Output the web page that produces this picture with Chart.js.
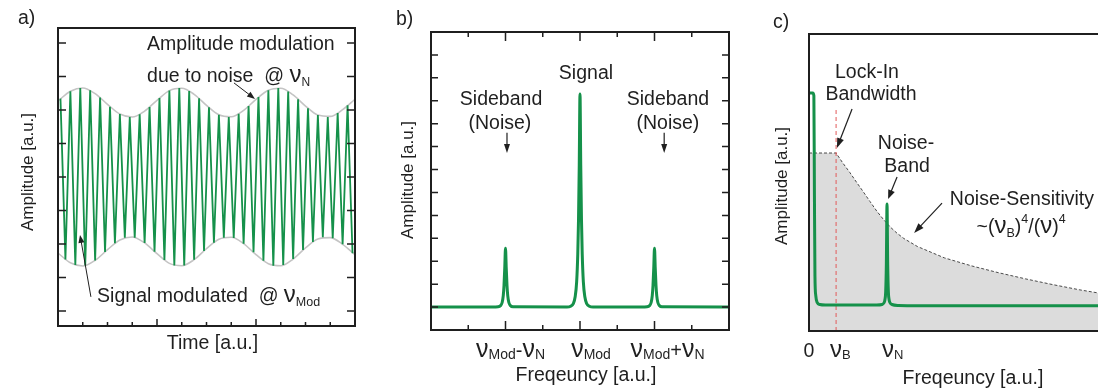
<!DOCTYPE html>
<html>
<head>
<meta charset="utf-8">
<title>Lock-in detection sketch</title>
<script src="https://cdn.jsdelivr.net/npm/chart.js@4.4.1/dist/chart.umd.min.js"></script>
<style>
    html, body { margin: 0; padding: 0; background: #fff; overflow: hidden; width: 1098px; height: 390px; }
    canvas { position: absolute; top: 0; }
    #panelA { left: 0; }
    #panelB { left: 370px; }
    #panelC { left: 740px; }
</style>
</head>
<body>
<canvas id="panelA" width="370" height="390"></canvas>
<canvas id="panelB" width="370" height="390"></canvas>
<canvas id="panelC" width="380" height="390"></canvas>
<script>
const FONT = '"Liberation Sans", Arial, Helvetica, sans-serif';
const GREEN = '#15914a';
const INK = '#1f1f1f';

// (a) modulated signal: carrier extrema and the slow noise envelope
const sampleTimes = [0.1, 0.3, 0.5, 0.7, 0.9, 1.1, 1.3, 1.5, 1.7, 1.9, 2.1, 2.3, 2.5, 2.7, 2.9,
    3.1, 3.3, 3.5, 3.7, 3.9, 4.1, 4.3, 4.5, 4.7, 4.9, 5.1, 5.3, 5.5, 5.7, 5.9,
    6.1, 6.3, 6.5, 6.7, 6.9, 7.1, 7.3, 7.5, 7.7, 7.9, 8.1, 8.3, 8.5, 8.7, 8.9,
    9.1, 9.3, 9.5, 9.7, 9.9, 10.1, 10.3, 10.5, 10.7, 10.9, 11.1, 11.3, 11.5, 11.7, 11.9];
const carrier = [2.34, -2.46, 2.56, -2.63, 2.66, -2.64, 2.59, -2.49, 2.37, -2.24, 2.10, -1.98, 1.88, -1.81, 1.79,
    -1.81, 1.87, -1.97, 2.09, -2.23, 2.36, -2.48, 2.58, -2.64, 2.66, -2.64, 2.57, -2.47, 2.35, -2.21,
    2.08, -1.96, 1.86, -1.81, 1.79, -1.82, 1.89, -1.99, 2.12, -2.25, 2.39, -2.50, 2.59, -2.65, 2.66,
    -2.63, 2.55, -2.45, 2.32, -2.18, 2.05, -1.94, 1.85, -1.80, 1.79, -1.83, 1.91, -2.01, 2.14, -2.28];
const envTimes = [0, 0.5, 1, 1.5, 2, 2.5, 3, 3.5, 4, 4.5, 5, 5.5, 6, 6.5, 7, 7.5, 8, 8.5, 9, 9.5, 10, 10.5, 11, 11.5, 12];
const envUpper = [2.27, 2.56, 2.66, 2.49, 2.17, 1.88, 1.79, 1.97, 2.29, 2.58, 2.65, 2.47, 2.14,
    1.86, 1.80, 1.99, 2.32, 2.59, 2.65, 2.45, 2.12, 1.85, 1.81, 2.01, 2.32];
const envLower = [-2.27, -2.56, -2.66, -2.49, -2.17, -1.88, -1.79, -1.97, -2.29, -2.58, -2.65, -2.47, -2.14,
    -1.86, -1.80, -1.99, -2.32, -2.59, -2.65, -2.45, -2.12, -1.85, -1.81, -2.01, -2.32];
const timeTicks = [1, 2, 3, 4, 5, 6, 7, 8, 9, 10, 11];
const timeMajorTicks = [4, 8];
const ampTicksA = [-4, -3, -2, -1, 0, 1, 2, 3, 4];

// (b) spectrum: carrier line with two noise sidebands
const freqB = [0, 1.65, 1.8, 1.87, 1.91, 1.94, 1.96, 1.98, 2.0, 2.02, 2.04, 2.06, 2.09, 2.13, 2.2,
    3.65, 3.75, 3.82, 3.87, 3.91, 3.94, 3.96, 3.98, 4.0, 4.02, 4.04, 4.06, 4.09, 4.13, 4.18, 4.25, 4.35,
    5.65, 5.8, 5.87, 5.91, 5.94, 5.96, 5.98, 6.0, 6.02, 6.04, 6.06, 6.09, 6.13, 6.2, 8];
const ampB = [1.0, 1.0, 1.01, 1.07, 1.2, 1.5, 1.95, 2.7, 3.57, 2.7, 1.95, 1.5, 1.2, 1.07, 1.01,
    1.0, 1.04, 1.15, 1.45, 2.1, 3.3, 4.8, 7.2, 10.3, 7.2, 4.8, 3.3, 2.1, 1.45, 1.15, 1.04, 1.0,
    1.0, 1.01, 1.07, 1.2, 1.5, 1.95, 2.7, 3.57, 2.7, 1.95, 1.5, 1.2, 1.07, 1.01, 1.0];
const freqTicksB = [1, 2, 3, 4, 5, 6, 7];
const freqMajorB = [2, 4, 6];
const ampTicksB = [1, 2, 3, 4, 5, 6, 7, 8, 9, 10, 11, 12];

// (c) demodulated spectrum, lock-in sensitivity roll-off
const freqC = [0, 0.14, 0.18, 0.2, 0.22, 0.25, 0.3, 0.4, 0.6, 1.5, 2.5, 2.7, 2.76, 2.8, 2.83, 2.855,
    2.88, 2.905, 2.93, 2.96, 3.0, 3.06, 3.3, 5, 11];
const ampC = [10.42, 10.42, 10.3, 6.0, 2.4, 1.55, 1.25, 1.16, 1.14, 1.14, 1.14, 1.16, 1.22, 1.35, 1.7, 2.9,
    5.56, 2.9, 1.7, 1.35, 1.22, 1.16, 1.12, 1.1, 1.1];
const sensFreq = [0, 1, 1.25, 1.5, 1.75, 2, 2.25, 2.5, 2.75, 3, 3.25, 3.5, 4, 5, 6, 7, 8, 9, 10, 11];
const sensAmp = [7.79, 7.79, 7.35, 6.95, 6.52, 6.1, 5.67, 5.25, 4.88, 4.55, 4.28, 4.05, 3.7, 3.2,
    2.85, 2.55, 2.28, 2.03, 1.8, 1.6];
const bandwidthFreq = [1, 1];
const bandwidthAmp = [0, 9.76];

function points(xs, ys) {
    return xs.map((x, i) => ({ x: x, y: ys[i] }));
}

// text made of pieces: [text, size, baseline shift]
function richText(ctx, parts, x, y, align) {
    let w = 0;
    parts.forEach(p => { ctx.font = p[1] + 'px ' + FONT; w += ctx.measureText(p[0]).width; });
    let cx = align === 'center' ? x - w / 2 : x;
    ctx.textAlign = 'left';
    ctx.textBaseline = 'alphabetic';
    parts.forEach(p => {
        ctx.font = p[1] + 'px ' + FONT;
        ctx.fillText(p[0], cx, y + (p[2] || 0));
        cx += ctx.measureText(p[0]).width;
    });
}

function rotatedText(ctx, text, size, x, y) {
    ctx.save();
    ctx.translate(x, y);
    ctx.rotate(-Math.PI / 2);
    ctx.font = size + 'px ' + FONT;
    ctx.textAlign = 'center';
    ctx.textBaseline = 'middle';
    ctx.fillText(text, 0, 0);
    ctx.restore();
}

function arrow(ctx, x1, y1, x2, y2, head, width) {
    const a = Math.atan2(y2 - y1, x2 - x1);
    const c = Math.cos(a), s = Math.sin(a);
    ctx.beginPath();
    ctx.moveTo(x1, y1);
    ctx.lineTo(x2 - head * 0.8 * c, y2 - head * 0.8 * s);
    ctx.stroke();
    ctx.beginPath();
    ctx.moveTo(x2, y2);
    ctx.lineTo(x2 - head * c + width * s, y2 - head * s - width * c);
    ctx.lineTo(x2 - head * c - width * s, y2 - head * s + width * c);
    ctx.closePath();
    ctx.fill();
}

function toPx(chart, x, y) {
    return [chart.scales.x.getPixelForValue(x), chart.scales.y.getPixelForValue(y)];
}

// label anchored at a data position (y is the visual middle of the text)
function note(chart, parts, x, y, align) {
    const p = toPx(chart, x, y);
    richText(chart.ctx, parts, p[0], p[1] + 7, align);
}

function noteArrow(chart, x1, y1, x2, y2, head, width) {
    const a = toPx(chart, x1, y1), b = toPx(chart, x2, y2);
    arrow(chart.ctx, a[0], a[1], b[0], b[1], head, width);
}

function drawFrame(chart) {
    const { ctx, chartArea: a } = chart;
    ctx.lineWidth = 2;
    ctx.strokeStyle = INK;
    ctx.strokeRect(a.left, a.top, a.right - a.left, a.bottom - a.top);
}

// tick marks pointing into the plot
function drawTicks(chart, axis, values, len, sides) {
    const { ctx, chartArea: a } = chart;
    const scale = chart.scales[axis];
    ctx.lineWidth = 1.5;
    ctx.strokeStyle = INK;
    ctx.beginPath();
    values.forEach(v => {
        const p = scale.getPixelForValue(v);
        const l = typeof len === 'function' ? len(v) : len;
        if (axis === 'x') {
            if (sides.includes('bottom')) { ctx.moveTo(p, a.bottom); ctx.lineTo(p, a.bottom - l); }
            if (sides.includes('top')) { ctx.moveTo(p, a.top); ctx.lineTo(p, a.top + l); }
        } else {
            if (sides.includes('left')) { ctx.moveTo(a.left, p); ctx.lineTo(a.left + l, p); }
            if (sides.includes('right')) { ctx.moveTo(a.right, p); ctx.lineTo(a.right - l, p); }
        }
    });
    ctx.stroke();
}

function baseOptions(xMin, xMax, yMin, yMax, padding) {
    return {
        responsive: false,
        animation: false,
        devicePixelRatio: 1,
        events: [],
        layout: { padding: padding },
        elements: { point: { radius: 0 } },
        plugins: { legend: { display: false }, tooltip: { enabled: false } },
        scales: {
            x: { type: 'linear', min: xMin, max: xMax, display: false },
            y: { type: 'linear', min: yMin, max: yMax, display: false }
        }
    };
}

// (a) time domain
new Chart(document.getElementById('panelA'), {
    type: 'line',
    data: {
        datasets: [{
            data: points(sampleTimes, carrier),
            borderColor: GREEN,
            borderWidth: 1.8,
            tension: 0
        }, {
            data: points(envTimes, envUpper),
            borderColor: '#c4c4c4',
            borderWidth: 1.6,
            cubicInterpolationMode: 'monotone'
        }, {
            data: points(envTimes, envLower),
            borderColor: '#c4c4c4',
            borderWidth: 1.6,
            cubicInterpolationMode: 'monotone'
        }]
    },
    options: baseOptions(0, 12, -4.45, 4.45, { left: 58, top: 28, right: 15, bottom: 64 }),
    plugins: [{
        id: 'decorA',
        afterDraw(chart) {
            const { ctx, chartArea: a } = chart;
            ctx.save();
            drawFrame(chart);
            drawTicks(chart, 'y', ampTicksA, 8, ['left', 'right']);
            drawTicks(chart, 'x', timeTicks, v => timeMajorTicks.includes(v) ? 7 : 4, ['bottom']);
            ctx.fillStyle = INK;
            ctx.strokeStyle = INK;
            ctx.lineWidth = 1;
            note(chart, [['Amplitude modulation', 19.5]], 3.6, 4.0, 'left');
            note(chart, [['due to noise  @ ', 19.5], ['\u03bd', 24], ['N', 12, 4]], 3.6, 3.04, 'left');
            noteArrow(chart, 7.11, 2.81, 7.96, 2.33, 8, 3);
            note(chart, [['Signal modulated  @ ', 19.5], ['\u03bd', 24], ['Mod', 12.5, 4]], 1.58, -3.52, 'left');
            noteArrow(chart, 1.33, -3.58, 0.89, -1.73, 8, 3);
            richText(ctx, [['Time [a.u.]', 19.5]], (a.left + a.right) / 2 + 6, a.bottom + 23, 'center');
            rotatedText(ctx, 'Amplitude [a.u.]', 17, a.left - 30, 172);
            richText(ctx, [['a)', 19.5]], 18, 24, 'left');
            ctx.restore();
        }
    }]
});

// (b) spectrum around the modulation frequency
new Chart(document.getElementById('panelB'), {
    type: 'line',
    data: {
        datasets: [{
            data: points(freqB, ampB),
            borderColor: GREEN,
            borderWidth: 3,
            cubicInterpolationMode: 'monotone'
        }]
    },
    options: baseOptions(0, 8, 0, 13, { left: 61, top: 32, right: 11, bottom: 60 }),
    plugins: [{
        id: 'decorB',
        afterDraw(chart) {
            const { ctx, chartArea: a } = chart;
            const x = chart.scales.x;
            ctx.save();
            drawFrame(chart);
            drawTicks(chart, 'y', ampTicksB, 7, ['left', 'right']);
            drawTicks(chart, 'x', freqTicksB, v => freqMajorB.includes(v) ? 9 : 5, ['top', 'bottom']);
            ctx.fillStyle = INK;
            ctx.strokeStyle = INK;
            ctx.lineWidth = 1.2;
            note(chart, [['Signal', 19.5]], 4.16, 11.26, 'center');
            note(chart, [['Sideband', 19.5]], 1.88, 10.12, 'center');
            note(chart, [['(Noise)', 19.5]], 1.85, 9.08, 'center');
            note(chart, [['Sideband', 19.5]], 6.36, 10.12, 'center');
            note(chart, [['(Noise)', 19.5]], 6.36, 9.08, 'center');
            noteArrow(chart, 2.04, 8.6, 2.04, 7.72, 9, 3);
            noteArrow(chart, 6.26, 8.6, 6.26, 7.72, 9, 3);
            const tickY = a.bottom + 27;
            richText(ctx, [['\u03bd', 25], ['Mod', 14, 2], ['-', 20], ['\u03bd', 25], ['N', 14, 2]],
                x.getPixelForValue(freqMajorB[0]) + 5, tickY, 'center');
            richText(ctx, [['\u03bd', 25], ['Mod', 14, 2]],
                x.getPixelForValue(freqMajorB[1]) + 11, tickY, 'center');
            richText(ctx, [['\u03bd', 25], ['Mod', 14, 2], ['+', 20], ['\u03bd', 25], ['N', 14, 2]],
                x.getPixelForValue(freqMajorB[2]) + 13, tickY, 'center');
            richText(ctx, [['Freqeuncy [a.u.]', 19.5]], 216, a.bottom + 51, 'center');
            rotatedText(ctx, 'Amplitude [a.u.]', 17, 38, 180);
            richText(ctx, [['b)', 19.5]], 26, 25, 'left');
            ctx.restore();
        }
    }]
});

// (c) after demodulation: noise band against the lock-in roll-off
new Chart(document.getElementById('panelC'), {
    type: 'line',
    data: {
        datasets: [{
            data: points(freqC, ampC),
            borderColor: GREEN,
            borderWidth: 3,
            cubicInterpolationMode: 'monotone'
        }, {
            data: points(bandwidthFreq, bandwidthAmp),
            borderColor: '#e25a5a',
            borderWidth: 1,
            borderDash: [4, 3]
        }, {
            data: points(sensFreq, sensAmp),
            borderColor: '#4a4a4a',
            borderWidth: 1,
            borderDash: [3, 2],
            tension: 0,
            fill: 'origin',
            backgroundColor: '#dcdcdc'
        }]
    },
    options: baseOptions(0, 11, 0, 13, { left: 69, top: 34, right: 13, bottom: 59 }),
    plugins: [{
        id: 'decorC',
        afterDraw(chart) {
            const { ctx, chartArea: a } = chart;
            const x = chart.scales.x;
            ctx.save();
            drawFrame(chart);
            ctx.fillStyle = INK;
            ctx.strokeStyle = INK;
            ctx.lineWidth = 1.2;
            note(chart, [['Lock-In', 19.5]], 2.14, 11.38, 'center');
            note(chart, [['Bandwidth', 19.5]], 2.29, 10.42, 'center');
            noteArrow(chart, 1.59, 9.72, 1.03, 8.01, 10, 3.5);
            note(chart, [['Noise-', 19.5]], 3.58, 8.27, 'center');
            note(chart, [['Band', 19.5]], 3.62, 7.26, 'center');
            noteArrow(chart, 3.25, 6.74, 2.92, 5.78, 9, 3.5);
            note(chart, [['Noise-Sensitivity', 19.5]], 7.86, 5.82, 'center');
            note(chart, [['~(', 19.5], ['\u03bd', 24], ['B', 12.5, 4], [')', 19.5], ['4', 12.5, -10],
                ['/(', 19.5], ['\u03bd', 24], [')', 19.5], ['4', 12.5, -10]], 7.83, 4.6, 'center');
            noteArrow(chart, 4.91, 5.6, 3.88, 4.29, 10, 3.5);
            const tickY = a.bottom + 26;
            richText(ctx, [['0', 19.5]], x.getPixelForValue(0), tickY, 'center');
            richText(ctx, [['\u03bd', 24], ['B', 13, 2]], x.getPixelForValue(bandwidthFreq[0]) - 6, tickY, 'left');
            richText(ctx, [['\u03bd', 24], ['N', 13, 2]], x.getPixelForValue(2.88) - 5, tickY, 'left');
            richText(ctx, [['Freqeuncy [a.u.]', 19.5]], 233, a.bottom + 53, 'center');
            rotatedText(ctx, 'Amplitude [a.u.]', 17, 42, 186);
            richText(ctx, [['c)', 19.5]], 33, 28, 'left');
            ctx.restore();
        }
    }]
});
</script>
</body>
</html>
